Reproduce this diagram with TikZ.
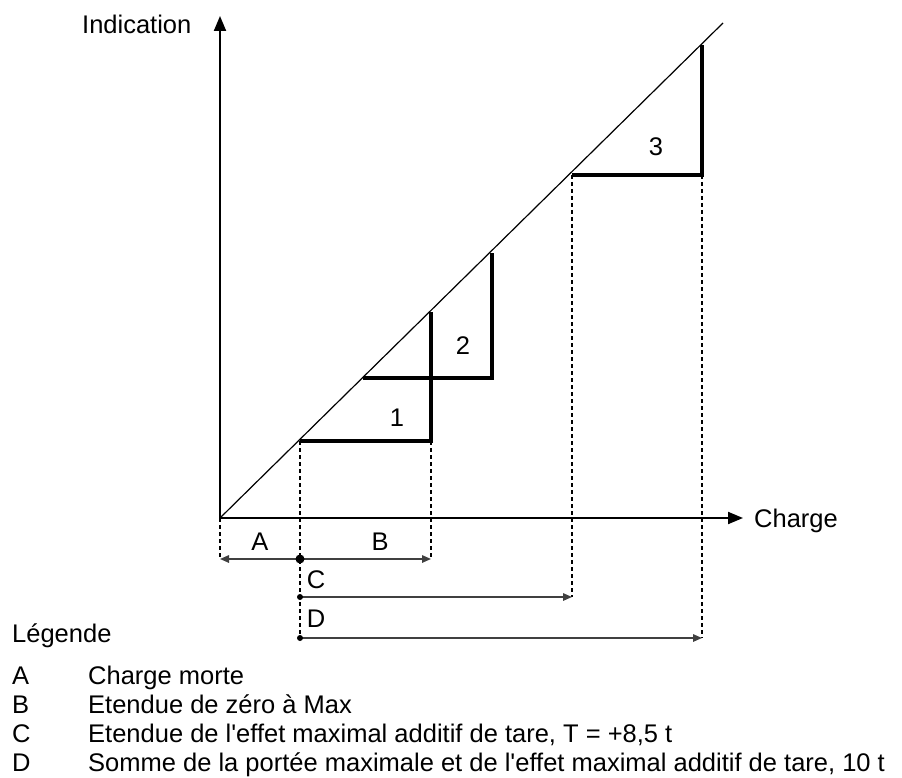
\documentclass[tikz,border=0pt]{standalone}
\usepackage{fontspec}
\setmainfont{Liberation Sans}
\usetikzlibrary{arrows.meta}
\begin{document}
\begin{tikzpicture}[x=1pt,y=-1pt,
  axis/.style={line width=2pt,-{Triangle[length=15pt,width=12pt]}},
  diag/.style={line width=1.2pt},
  stepline/.style={line width=4.5pt,line join=miter},
  guide/.style={dash pattern=on 4pt off 3pt,line width=1.2pt},
  dim/.style={line width=1.5pt,black!75,-{Triangle[length=9pt,width=7.5pt]}},
  txt/.style={inner sep=0pt,font=\fontsize{25.5}{30}\selectfont},
]
\useasboundingbox (0,0) rectangle (902,778);
% key points
\coordinate (O) at (220,518);
\coordinate (Ytop) at (220,16);
\coordinate (Xend) at (743,518);
\coordinate (Dtop) at (723,23);
\coordinate (s1a) at (300,441); \coordinate (s1b) at (431,441); \coordinate (s1c) at (431,312);
\coordinate (s2a) at (363,378); \coordinate (s2b) at (492,378); \coordinate (s2c) at (492,253);
\coordinate (s3a) at (572,175); \coordinate (s3b) at (702,175); \coordinate (s3c) at (702,45);
\coordinate (gA) at (220,559);
\coordinate (gAB) at (300,559);
\coordinate (gB) at (431,559);
\coordinate (gC0) at (300,597); \coordinate (gC) at (572,597);
\coordinate (gD0) at (300,638); \coordinate (gD) at (702,638);
% axes and diagonal
\draw[axis] (O) -- (Ytop);
\draw[axis] (O) -- (Xend);
\draw[diag] (O) -- (Dtop);
% steps
\draw[stepline] (s1a) -- (s1b) -- (s1c);
\draw[stepline] (s2a) -- (s2b) -- (s2c);
\draw[stepline] (s3a) -- (s3b) -- (s3c);
% guides
\draw[guide] (O) -- (gA);
\draw[guide] (s1a) -- (gD0);
\draw[guide] (s1b) -- (gB);
\draw[guide] (s3a) -- (gC);
\draw[guide] (s3b) -- (gD);
% dimension lines
\draw[dim] (gAB) -- (gA);
\draw[dim] (gAB) -- (gB);
\draw[dim] (gC0) -- (gC);
\draw[dim] (gD0) -- (gD);
\fill (gAB) circle (4.5);
\fill (gC0) circle (3);
\fill (gD0) circle (3);
% labels
\node[txt,anchor=base west] (ind) at (82,34) {Indication};
\node[txt,anchor=base west] (chg) at (754,527) {Charge};
\node[txt] (n1) at (397,418) {1};
\node[txt] (n2) at (463,346) {2};
\node[txt] (n3) at (656,147) {3};
\node[txt] (lA) at (260,542) {A};
\node[txt] (lB) at (380,542) {B};
\node[txt] (lC) at (316,580) {C};
\node[txt] (lD) at (316,619) {D};
% legend
\node[txt,anchor=base west] (leg) at (12,642) {Légende};
\node[txt,anchor=base west] (kA) at (12,684) {A};
\node[txt,anchor=base west] (kB) at (12,713) {B};
\node[txt,anchor=base west] (kC) at (12,742) {C};
\node[txt,anchor=base west] (kD) at (12,771) {D};
\node[txt,anchor=base west] (tA) at (88,684) {Charge morte};
\node[txt,anchor=base west] (tB) at (88,713) {Etendue de zéro à Max};
\node[txt,anchor=base west] (tC) at (88,742) {Etendue de l\textquotesingle effet maximal additif de tare, T = +8,5 t};
\node[txt,anchor=base west] (tD) at (88,771) {Somme de la portée maximale et de l\textquotesingle effet maximal additif de tare, 10 t};
\end{tikzpicture}
\end{document}
